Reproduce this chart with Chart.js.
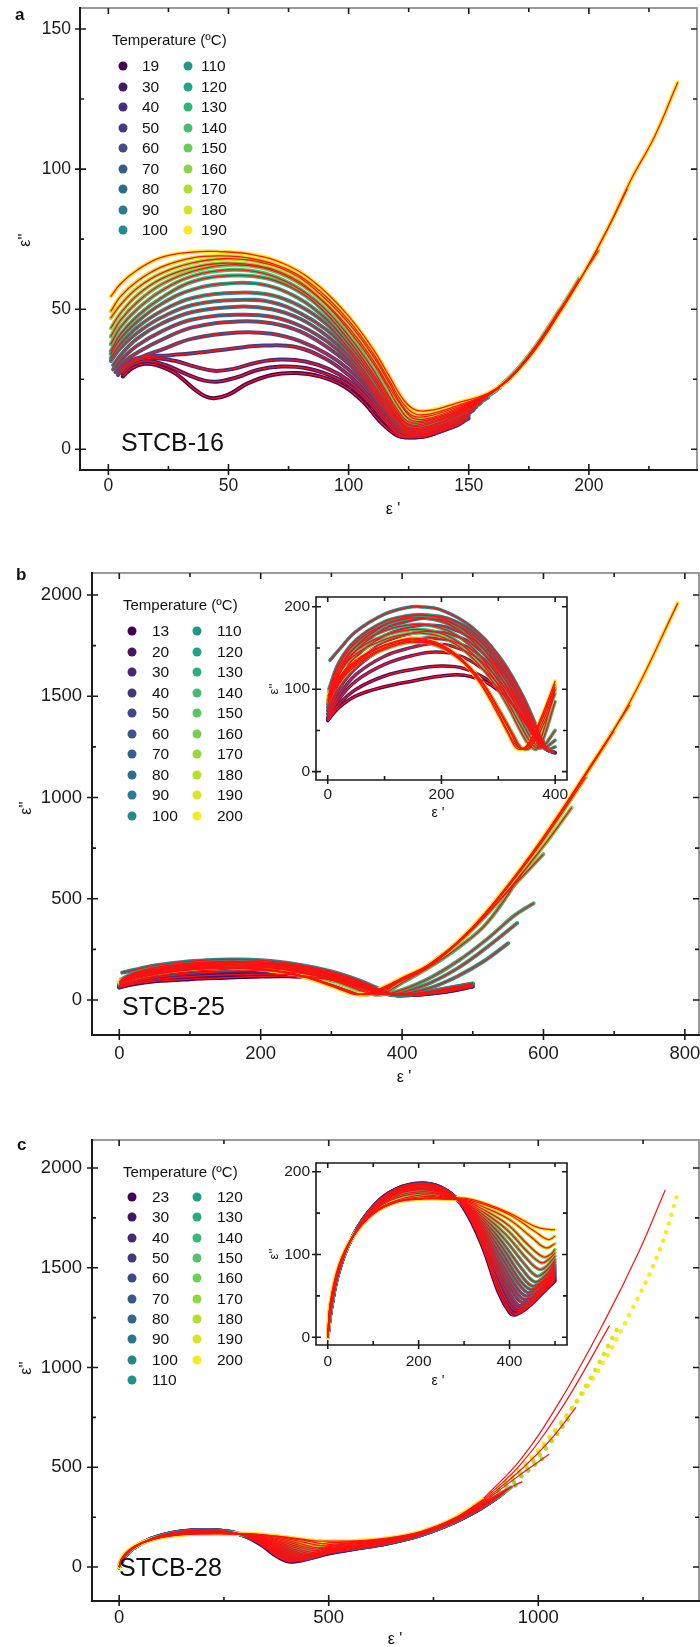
<!DOCTYPE html>
<html>
<head>
<meta charset="utf-8">
<script src="https://cdn.jsdelivr.net/npm/chart.js@4.4.1/dist/chart.umd.min.js"></script>
<style>
  body { margin: 0; background: #fff; width: 700px; height: 1647px; position: relative; overflow: hidden;
         font-family: "Liberation Sans", Arial, sans-serif; color: #111; }
  canvas { position: absolute; }
  .t { position: absolute; white-space: nowrap; line-height: 1; transform: translateY(-50%); }
  .c { transform: translate(-50%, -50%); }
  .r { transform: translate(-50%, -50%) rotate(-90deg); }
  .dot { position: absolute; width: 9px; height: 9px; border-radius: 50%; transform: translate(-50%, -50%); }
</style>
</head>
<body>
<canvas id="ca" width="700" height="520" style="left:0;top:0"></canvas>
<canvas id="cb" width="700" height="560" style="left:0;top:540px"></canvas>
<canvas id="cbi" width="320" height="240" style="left:260px;top:585px"></canvas>
<canvas id="cc" width="700" height="537" style="left:0;top:1110px"></canvas>
<canvas id="cci" width="320" height="240" style="left:260px;top:1150px"></canvas>
<div id="txt"></div>
<script>
// ---------- tick labels ----------
const ticksAx = [0, 50, 100, 150, 200], ticksAy = [0, 50, 100, 150];
const ticksBx = [0, 200, 400, 600, 800], ticksBy = [0, 500, 1000, 1500, 2000];
const ticksCx = [0, 500, 1000], ticksCy = [0, 500, 1000, 1500, 2000];
const ticksInsX = [0, 200, 400], ticksInsY = [0, 100, 200];

// ---------- panel a : STCB-16 ----------
const tempsA = [19, 30, 40, 50, 60, 70, 80, 90, 100, 110, 120, 130, 140, 150, 160, 170, 180, 190];
const curvesA = [
  [[6,26],[10,29],[15,30.5],[20,30],[28,27],[35,22],[40,19],[44,18.2],[50,19.5],[58,23.5],[68,26.5],[78,27.2],[88,26],[98,22.5],[106,17],[113,10],[120,5],[125,4.2],[133,4.8],[142,8]],
  [[6,27],[10,30],[16,31.5],[24,30],[32,27],[40,24.5],[46,24.2],[54,25.8],[62,28.3],[72,29.5],[82,29],[92,26.5],[100,23],[108,17],[115,10],[121,5],[125,4.3],[133,5],[145,8.5]],
  [[5,27.5],[10,31],[18,32.5],[28,31.5],[36,29.5],[44,28],[52,28.7],[62,31],[72,32],[82,31.3],[92,28.5],[100,24.5],[108,18],[115,11],[121,5.5],[125,4.5],[133,5.2],[145,8.5],[148,10]],
  [[5,28],[9,31.5],[15,33],[25,33.5],[38,34.5],[52,36],[65,37],[78,36.5],[90,32.5],[100,26.5],[108,19.5],[115,12],[121,6.5],[125,5],[133,5.5],[145,9],[150,11]],
  [[4,26.5],[8,30],[14,33],[22,35.5],[35,39.5],[54,41.7],[68,41.2],[80,38.5],[91,34],[100,28.5],[108,21.5],[115,13.5],[121,7.5],[125,5.5],[133,6],[145,9.5],[150,12]],
  [[3,27.5],[7,31.5],[13,35],[22,39],[35,43.5],[54,45.6],[68,45],[80,42],[91,36.5],[100,30.5],[108,23],[115,14.5],[121,8.5],[125,6],[133,6.5],[145,10],[152,14]],
  [[2,28.5],[6,32.5],[12,37],[22,42],[35,46.3],[54,48],[68,47.3],[80,44],[91,38.5],[100,32],[108,24],[115,15.5],[121,9.5],[125,6.5],[133,7],[145,10.5],[153,15]],
  [[2,30],[6,34.5],[12,39.5],[22,44.8],[35,49],[54,50.9],[68,50],[80,46.5],[91,40.5],[100,33.5],[108,25],[115,16.5],[121,10],[125,7],[133,7.3],[145,11],[155,16.5]],
  [[1,31.5],[5,36],[12,41.5],[22,47],[35,51.5],[54,53.3],[68,52.5],[80,48.5],[91,42.5],[100,35],[108,26],[115,17.5],[120,11.5],[125,7.3],[133,7.8],[145,11.8],[158,18.5]],
  [[1,32.5],[5,37.5],[12,43.5],[22,49.3],[35,54],[54,55.9],[68,55],[80,51],[91,44.5],[100,36],[109,26.5],[115,18.5],[120,12],[125,7.8],[133,8.2],[145,12.3],[158,19],[163,22]],
  [[1,34],[5,39.5],[12,45.5],[22,51.8],[35,57],[52,59.3],[66,58.5],[79,54],[90,47],[100,37.5],[109,27.5],[115,19.5],[120,12.8],[125,8.5],[132,8.7],[145,12.8],[158,19.2],[166,24.5]],
  [[1,35],[5,41],[12,47.5],[22,54],[35,59.8],[52,62],[66,61],[79,56.5],[90,49],[100,39],[109,28.5],[115,20.5],[120,13.5],[125,9],[132,9.2],[145,13.2],[158,19.3],[168,26.5],[176,34]],
  [[1,37.5],[5,43.5],[12,50],[22,56.5],[35,61.8],[50,64],[64,63],[77,58.5],[89,51],[100,40.5],[109,30],[115,21.5],[120,14.5],[125,9.8],[132,9.8],[145,13.5],[158,19.5],[168,26.5],[180,39]],
  [[1,40.2],[5,46],[12,52.5],[22,58.8],[35,63.5],[50,65.8],[64,64.8],[77,60.5],[89,53],[100,42.5],[110,31],[116,22.5],[121,15],[126,10.3],[133,10.5],[145,14],[158,19.5],[168,26.3],[178,37],[188,50]],
  [[1,43.2],[5,48.5],[12,55],[22,60.8],[35,64.8],[48,66.4],[62,65.5],[76,61.5],[88,54],[100,43.5],[110,32],[116,23.5],[122,15.5],[127,11],[134,11.2],[145,14.5],[158,19.5],[168,26],[178,37],[188,50],[196,61]],
  [[1,46.8],[5,51.5],[12,57.5],[22,62.8],[35,66.5],[48,68],[62,67],[76,63],[88,55.5],[100,45],[110,33.5],[117,23.5],[122,16],[127,11.8],[134,12],[145,15],[158,19.7],[168,26],[178,36.5],[188,49.5],[198,63],[204,71]],
  [[1,49.2],[5,54.5],[12,60],[22,65],[35,68.3],[47,69],[60,68],[75,64],[88,56.5],[100,46],[110,34.5],[117,24.5],[123,16],[128,12.5],[135,12.8],[145,15.5],[158,19.8],[168,26],[178,36],[188,49],[198,63],[208,79],[216,93]],
  [[1,54.5],[5,59],[12,64],[22,68.5],[35,70.4],[45,70.6],[60,69.5],[75,65.5],[88,58],[100,47.5],[110,36],[117,26],[123,17.5],[128,14],[135,14],[145,16.5],[158,20],[168,26],[178,36],[188,49],[198,63],[208,79],[218,97],[227,111],[237,131]]
];

// ---------- panel b : STCB-25 ----------
const tempsB = [13, 20, 30, 40, 50, 60, 70, 80, 90, 100, 110, 120, 130, 140, 150, 160, 170, 180, 190, 200];
const curvesB = [
  [[0,62],[20,78],[50,92],[100,103],[150,110],[200,116],[240,117],[280,108],[310,92],[340,66],[365,42],[385,27],[400,23],[430,28],[465,42],[500,66]],
  [[0,63],[20,82],[50,100],[100,116],[150,124],[200,128],[240,125],[280,112],[310,95],[340,68],[365,44],[385,27],[400,23],[430,29],[465,44],[500,68]],
  [[0,64],[20,88],[50,110],[100,130],[150,141],[190,145],[230,141],[270,126],[305,102],[335,72],[360,46],[382,28],[398,23],[430,30],[465,46],[500,70]],
  [[0,66],[20,93],[50,118],[100,140],[150,151],[180,155],[220,152],[260,139],[300,112],[330,82],[358,50],[380,30],[396,24],[430,31],[465,48],[500,71]],
  [[0,70],[20,100],[50,126],[100,150],[150,160],[180,162],[220,158],[260,145],[300,117],[332,85],[358,52],[380,31],[395,24],[430,32],[465,50],[500,72]],
  [[0,74],[20,106],[50,133],[100,157],[150,168],[180,170],[220,166],[260,152],[300,123],[334,88],[360,52],[381,31],[394,25],[430,33],[465,52],[500,74]],
  [[0,78],[20,112],[50,140],[100,165],[150,176],[175,178],[215,174],[260,158],[300,128],[336,90],[362,52],[382,30],[393,25],[430,34],[465,54],[500,76]],
  [[0,82],[20,118],[50,147],[100,173],[150,184],[170,186],[210,182],[255,166],[300,133],[338,92],[364,53],[383,30],[392,25],[430,35],[465,56],[500,78]],
  [[0,86],[20,122],[50,152],[100,178],[150,189],[170,190],[210,186],[255,170],[300,137],[340,94],[366,53],[384,30],[392,25],[430,36],[465,58],[500,80]],
  [[4,135],[20,148],[50,170],[100,191],[140,199],[162,200],[200,196],[250,177],[300,141],[340,96],[368,54],[385,29],[394,24],[430,37],[465,60],[500,82]],
  [[2,100],[20,133],[50,160],[100,182],[140,189],[165,190],[205,185],[250,166],[295,130],[330,90],[355,56],[372,34],[386,27],[400,30],[440,60],[480,120],[515,190],[550,280]],
  [[2,96],[20,130],[50,157],[100,178],[145,186],[175,186],[215,178],[255,158],[295,124],[328,86],[352,54],[368,35],[380,29],[400,38],[440,85],[480,160],[520,260],[563,380]],
  [[2,92],[20,126],[50,152],[100,171],[145,178],[175,178],[215,170],[255,150],[292,118],[325,82],[348,52],[364,34],[376,29],[400,50],[440,110],[480,195],[520,300],[560,420],[586,477]],
  [[2,88],[20,122],[50,147],[100,165],[145,172],[170,172],[210,165],[250,146],[290,115],[320,80],[344,50],[360,33],[372,29],[400,85],[440,165],[480,260],[520,380],[570,627]],
  [[2,86],[20,118],[50,143],[100,160],[140,167],[165,168],[205,162],[245,144],[285,114],[316,80],[340,48],[356,31],[368,28],[400,100],[440,180],[490,320],[540,500],[600,720]],
  [[0,84],[15,102],[40,123],[80,142],[120,153],[150,157],[190,153],[230,137],[272,108],[302,75],[327,44],[342,28],[356,29],[380,58],[400,95],[440,170],[490,315],[540,500],[600,760],[640,950]],
  [[0,86],[15,104],[40,125],[80,144],[120,155],[150,158],[190,154],[230,138],[270,110],[300,76],[325,45],[340,28],[354,30],[378,60],[400,100],[440,173],[490,320],[540,515],[600,790],[660,1100]],
  [[0,88],[15,106],[40,127],[80,146],[120,157],[150,160],[190,156],[230,140],[268,112],[298,78],[322,47],[337,29],[352,31],[376,62],[400,103],[440,175],[490,322],[540,520],[600,798],[660,1112],[700,1330]],
  [[0,90],[15,108],[40,128],[80,147],[120,158],[150,162],[190,157],[230,140],[265,112],[295,78],[318,47],[334,30],[350,31],[375,62],[400,106],[440,177],[490,324],[540,522],[600,802],[660,1118],[722,1457]],
  [[0,92],[15,110],[40,130],[80,148],[120,158],[150,160],[190,155],[230,138],[265,110],[295,75],[318,45],[333,28],[348,30],[373,62],[400,110],[440,180],[490,326],[540,525],[600,806],[660,1122],[722,1470],[790,1960]]
];

// ---------- panel c : STCB-28 ----------
const tempsC = [23, 30, 40, 50, 60, 70, 80, 90, 100, 110, 120, 130, 140, 150, 160, 170, 180, 190, 200];
const curvesC = [
  [[0,0],[8,35],[25,80],[55,122],[100,158],[150,179],[210,186],[260,178],[300,155],[340,110],[375,55],[400,30],[412,27],[440,36],[470,52],[500,68],[560,90],[640,118],[720,160],[800,225],[860,290],[900,345]],
  [[0,0],[8,35],[25,80],[55,122],[100,158],[150,179],[210,186],[260,178],[300,156],[340,113],[375,60],[400,34],[414,29],[440,37],[470,53],[500,70],[560,91],[640,119],[720,160],[800,225],[860,292],[900,348]],
  [[0,0],[8,35],[25,80],[55,122],[100,158],[150,178],[210,186],[260,178],[300,157],[340,116],[375,66],[400,39],[416,32],[440,39],[470,55],[500,72],[560,92],[640,120],[720,161],[800,226],[865,298],[905,352]],
  [[0,0],[8,35],[25,80],[55,122],[100,157],[150,178],[210,185],[260,178],[300,157],[340,119],[378,70],[405,42],[420,35],[445,41],[470,56],[500,74],[560,93],[640,120],[720,161],[800,226],[865,300],[905,355]],
  [[0,0],[8,35],[25,80],[55,122],[100,157],[150,177],[210,185],[260,177],[300,158],[340,122],[378,76],[408,46],[424,38],[450,44],[475,59],[500,76],[560,94],[640,121],[720,162],[800,227],[870,305],[910,360]],
  [[0,0],[8,35],[25,80],[55,122],[100,157],[150,177],[210,184],[260,177],[300,158],[340,125],[380,80],[410,52],[428,42],[452,48],[478,62],[500,78],[560,95],[640,122],[720,163],[800,228],[870,306],[910,362]],
  [[0,0],[8,35],[25,80],[55,122],[100,156],[150,176],[210,183],[260,176],[300,159],[340,128],[380,86],[412,57],[432,46],[455,51],[480,65],[500,80],[560,96],[640,123],[720,163],[800,228],[870,307],[912,365]],
  [[0,0],[8,36],[25,81],[55,122],[100,156],[150,176],[210,182],[260,176],[300,159],[340,131],[380,92],[415,61],[436,50],[458,55],[482,68],[500,82],[560,98],[640,124],[720,164],[800,229],[870,308],[915,368]],
  [[0,0],[8,36],[25,81],[55,121],[100,155],[150,175],[210,181],[260,175],[300,160],[340,134],[382,97],[418,66],[440,54],[460,59],[484,71],[500,84],[560,99],[640,125],[720,164],[800,229],[870,309],[918,372]],
  [[0,0],[8,37],[25,82],[55,121],[100,155],[150,174],[210,180],[260,174],[300,160],[340,137],[384,102],[420,71],[445,58],[465,63],[486,74],[500,86],[560,100],[640,126],[720,165],[800,230],[870,310],[920,376]],
  [[0,0],[8,37],[25,82],[55,121],[100,154],[150,173],[210,179],[260,173],[300,161],[340,140],[386,107],[424,76],[450,62],[470,67],[488,78],[500,88],[560,102],[640,127],[720,165],[800,230],[870,311],[922,380]],
  [[0,0],[8,37],[25,82],[55,121],[100,154],[150,172],[210,178],[260,172],[300,161],[340,143],[388,112],[428,82],[455,67],[474,72],[490,82],[500,91],[560,104],[640,128],[720,166],[800,231],[870,312],[925,385]],
  [[0,0],[8,38],[25,83],[55,121],[100,153],[150,170],[210,176],[260,171],[300,162],[340,146],[390,118],[432,89],[460,74],[478,79],[492,87],[500,94],[560,106],[640,130],[720,167],[800,232],[870,314],[930,392]],
  [[0,0],[8,38],[25,83],[55,121],[100,152],[150,168],[210,174],[260,170],[300,163],[340,149],[392,124],[436,96],[465,82],[482,86],[500,98],[560,110],[640,132],[720,168],[800,233],[870,316],[935,400]],
  [[0,0],[6,40],[25,85],[55,121],[100,150],[150,165],[210,172],[260,169],[300,164],[340,152],[394,130],[440,103],[470,90],[486,94],[500,102],[560,115],[640,135],[720,170],[800,235],[870,320]],
  [[0,0],[6,40],[25,85],[55,121],[100,150],[150,164],[210,170],[260,168],[300,165],[340,155],[396,136],[444,110],[475,97],[490,100],[500,106],[560,120],[640,138],[720,172],[800,238],[870,325]],
  [[0,0],[6,41],[25,86],[55,121],[100,149],[150,163],[210,168],[260,167],[300,166],[340,158],[400,142],[450,120],[480,108],[500,113],[560,123],[640,140],[720,174],[800,240],[870,330]],
  [[0,0],[6,42],[25,87],[55,121],[100,149],[150,163],[210,167],[260,167],[300,167],[340,161],[400,148],[455,128],[485,118],[500,122],[560,127],[640,142],[720,176],[800,242],[870,335]],
  [[0,0],[6,43],[25,88],[55,122],[100,150],[150,164],[210,168],[260,168],[300,168],[340,163],[400,150],[460,133],[490,130],[500,130],[560,131],[640,145],[720,178],[800,245],[870,340]]
];
// sparse high-frequency dots (160..200 °C) and their fit lines
const tailTempsC = [160, 170, 180, 190, 200];
const tailDotsC = [
  [[870,320],[915,378],[956,420]],
  [[870,325],[945,432],[1012,548]],
  [[870,330],[955,462],[1020,600],[1072,745]],
  [[870,335],[960,488],[1045,690],[1120,930],[1190,1200]],
  [[870,340],[960,498],[1050,715],[1140,975],[1220,1275],[1290,1590],[1335,1887]]
];
const tailFitsC = [
  [[870,320],[920,385],[962,428]],
  [[870,326],[950,452],[1026,565]],
  [[870,332],[960,490],[1030,640],[1090,800]],
  [[870,338],[960,520],[1060,810],[1170,1210]],
  [[870,345],[960,545],[1060,860],[1160,1240],[1240,1580],[1303,1890]]
];

// ---------- styling helpers ----------
const viridis = ['#440154','#482475','#414487','#355f8d','#2a788e','#21918c','#22a884','#44bf70','#7ad151','#bddf26','#fde725'];
function hex(c) { return [1,3,5].map(i => parseInt(c.substr(i,2),16)); }
function colorAt(f) {
  const p = f * (viridis.length - 1), i = Math.min(Math.floor(p), viridis.length - 2), t = p - i;
  const a = hex(viridis[i]), b = hex(viridis[i+1]);
  return 'rgb(' + a.map((v,k) => Math.round(v + (b[k]-v)*t)).join(',') + ')';
}
function palette(n) { return Array.from({length: n}, (_, i) => colorAt(i / (n - 1))); }
const colA = palette(tempsA.length), colB = palette(tempsB.length), colC = palette(tempsC.length);
const RED = '#ff1010';
const pts = c => c.map(p => ({x: p[0], y: p[1]}));
// the insets only show the measured range up to their last x tick
const upTo = (curves, xmax) => curves.map(c => c.filter(p => p[0] <= xmax));

function seriesSets(curves, cols, w, rw) {
  const ds = [];
  curves.forEach((c, i) => ds.push({ data: pts(c), showLine: true, pointRadius: 0, tension: 0.4,
    borderColor: cols[i], borderWidth: w, borderCapStyle: 'round', borderJoinStyle: 'round', order: 200 - i }));
  curves.forEach(c => ds.push({ data: pts(c), showLine: true, pointRadius: 0, tension: 0.4,
    borderColor: RED, borderWidth: rw, order: 0 }));
  return ds;
}

// frame with in/out ticks on four sides, drawn from the chart's own scales
const frame = {
  id: 'frame',
  afterDraw(chart, args, o) {
    const {ctx, chartArea: a, scales: {x, y}} = chart;
    ctx.save();
    ctx.lineCap = 'butt';
    const minors = (s, step) => {
      const out = [];
      for (let v = Math.ceil(s.min / step) * step; v <= s.max; v += step) out.push(v);
      return out;
    };
    const majX = x.ticks.map(t => t.value), majY = y.ticks.map(t => t.value);
    const minX = minors(x, o.mx).filter(v => !majX.includes(v));
    const minY = minors(y, o.my).filter(v => !majY.includes(v));
    ctx.lineWidth = o.lw;
    ctx.strokeStyle = o.side;
    ctx.beginPath();
    ctx.moveTo(a.left, a.top); ctx.lineTo(a.right, a.top); ctx.lineTo(a.right, a.bottom);
    ctx.stroke();
    ctx.strokeStyle = '#1a1a1a';
    ctx.beginPath();
    ctx.moveTo(a.left, a.top - o.lw / 2); ctx.lineTo(a.left, a.bottom); ctx.lineTo(a.right + o.lw / 2, a.bottom);
    ctx.stroke();
    ctx.lineWidth = o.tw;
    ctx.beginPath();
    majX.forEach(v => { const p = x.getPixelForValue(v);
      ctx.moveTo(p, a.bottom - o.tin); ctx.lineTo(p, a.bottom + o.tout);
      ctx.moveTo(p, a.top); ctx.lineTo(p, a.top + o.tin); });
    minX.forEach(v => { const p = x.getPixelForValue(v);
      ctx.moveTo(p, a.bottom - o.tmin); ctx.lineTo(p, a.bottom);
      ctx.moveTo(p, a.top); ctx.lineTo(p, a.top + o.tmin); });
    majY.forEach(v => { const p = y.getPixelForValue(v);
      ctx.moveTo(a.left - o.tout, p); ctx.lineTo(a.left + o.tin, p);
      ctx.moveTo(a.right - o.tin, p); ctx.lineTo(a.right, p); });
    minY.forEach(v => { const p = y.getPixelForValue(v);
      ctx.moveTo(a.left, p); ctx.lineTo(a.left + o.tmin, p);
      ctx.moveTo(a.right - o.tmin, p); ctx.lineTo(a.right, p); });
    ctx.stroke();
    ctx.restore();
  }
};

function makeChart(id, c) {
  const axis = (min, max, ticks, pad, size, fit) => ({
    type: 'linear', min, max,
    grid: { display: false, drawTicks: false }, border: { display: false },
    afterBuildTicks: s => { s.ticks = ticks.map(v => ({ value: v })); },
    ticks: { padding: pad, color: '#1a1a1a', callback: v => String(v),
             font: { size, family: "'Liberation Sans', Arial, sans-serif" } },
    afterFit: fit
  });
  return new Chart(document.getElementById(id), {
    type: 'scatter',
    data: { datasets: c.datasets },
    options: {
      responsive: false, animation: false, events: [],
      layout: { padding: { left: 0, top: c.pt, right: c.pr, bottom: 0 } },
      scales: {
        x: axis(c.x[0], c.x[1], c.xt, c.xpad, c.fs, s => { s.height = c.xh; s.paddingLeft = 0; s.paddingRight = 0; }),
        y: axis(c.y[0], c.y[1], c.yt, c.ypad, c.fs, s => { s.width = c.yw; s.paddingTop = 0; s.paddingBottom = 0; })
      },
      plugins: {
        legend: { display: false }, tooltip: { enabled: false },
        frame: { mx: c.x[2], my: c.y[2], lw: c.lw, side: c.side, tw: 1.6, tin: c.tin, tout: c.tout, tmin: c.tmin }
      }
    },
    plugins: [frame]
  });
}

// panel a
makeChart('ca', { datasets: seriesSets(curvesA, colA, 4, 1.3),
  x: [-11.8, 245, 25], y: [-7.4, 157.5, 25], xt: ticksAx, yt: ticksAy, pt: 8, pr: 3, xh: 50, yw: 80,
  xpad: 6, ypad: 9, fs: 17.5, lw: 2, side: '#9a9a9a', tin: 6, tout: 5, tmin: 4 });

// panel b
makeChart('cb', { datasets: seriesSets(curvesB, colB, 4, 1.3),
  x: [-38.6, 820, 100], y: [-172.8, 2108.6, 250], xt: ticksBx, yt: ticksBy, pt: 33, pr: 1, xh: 65, yw: 92,
  xpad: 8, ypad: 10, fs: 18.5, lw: 2, side: '#9a9a9a', tin: 6, tout: 5, tmin: 4 });
makeChart('cbi', { datasets: seriesSets(upTo(curvesB, 400), colB, 3.5, 1.3),
  x: [-20.6, 420.8, 100], y: [-10.1, 211.8, 50], xt: ticksInsX, yt: ticksInsY, pt: 12, pr: 13, xh: 45, yw: 56,
  xpad: 5, ypad: 6, fs: 15.5, lw: 1.6, side: '#1a1a1a', tin: 5, tout: 4, tmin: 4 });

// panel c
const setsC = seriesSets(curvesC, colC, 4, 1.3);
tailDotsC.forEach((c, i) => setsC.push({ data: pts(c), showLine: true, pointRadius: 0, tension: 0.4,
  borderColor: colC[tempsC.indexOf(tailTempsC[i])], borderWidth: 4.5, borderDash: [0.1, 9],
  borderCapStyle: 'round', order: 50 }));
tailFitsC.forEach(c => setsC.push({ data: pts(c), showLine: true, pointRadius: 0, tension: 0.4,
  borderColor: RED, borderWidth: 1.2, order: 0 }));
makeChart('cc', { datasets: setsC,
  x: [-64.8, 1383.5, 250], y: [-170, 2140, 250], xt: ticksCx, yt: ticksCy, pt: 30, pr: 1, xh: 46, yw: 92,
  xpad: 6, ypad: 10, fs: 18.5, lw: 2, side: '#9a9a9a', tin: 6, tout: 5, tmin: 4 });
makeChart('cci', { datasets: seriesSets(upTo(curvesC, 500), colC, 3.5, 1.3),
  x: [-25.8, 526.4, 100], y: [-9.3, 210.5, 50], xt: ticksInsX, yt: ticksInsY, pt: 13, pr: 13, xh: 45, yw: 56,
  xpad: 7, ypad: 6, fs: 15.5, lw: 1.6, side: '#1a1a1a', tin: 5, tout: 4, tmin: 4 });

// ---------- texts and legends ----------
const txt = document.getElementById('txt');
function label(s, x, y, css, cls) {
  const d = document.createElement('div');
  d.className = 't' + (cls ? ' ' + cls : '');
  d.textContent = s;
  d.style.left = x + 'px'; d.style.top = y + 'px';
  d.style.cssText += css;
  txt.appendChild(d);
}
function legend(temps, cols, n1, tx, ty, d1, t1, d2, t2, y0, step) {
  label('Temperature (ºC)', tx, ty, 'font-size:15px;');
  temps.forEach((t, i) => {
    const col = i < n1 ? 0 : 1, row = i < n1 ? i : i - n1, y = y0 + row * step;
    const d = document.createElement('div');
    d.className = 'dot';
    d.style.left = (col ? d2 : d1) + 'px'; d.style.top = y + 'px'; d.style.background = cols[i];
    txt.appendChild(d);
    label(String(t), col ? t2 : t1, y, 'font-size:15.5px;');
  });
}
legend(tempsA, colA, 9, 112, 39, 123, 142, 188, 201, 66, 20.5);
legend(tempsB, colB, 10, 123, 604, 132, 152, 197, 217, 631, 20.5);
legend(tempsC, colC, 10, 123, 1171, 132, 152, 197, 217, 1197, 20.35);

label('a', 15, 14, 'font-size:17px;font-weight:bold;');
label('b', 16, 574, 'font-size:17px;font-weight:bold;');
label('c', 17, 1144, 'font-size:17px;font-weight:bold;');
label('STCB-16', 121, 442, 'font-size:25px;');
label('STCB-25', 122, 1006, 'font-size:25px;');
label('STCB-28', 119, 1567, 'font-size:25px;');
label("ε''", 25, 240, 'font-size:16px;', 'r');
label("ε''", 26, 808, 'font-size:16px;', 'r');
label("ε''", 26, 1368, 'font-size:16px;', 'r');
label("ε''", 273, 689, 'font-size:13px;', 'r');
label("ε''", 273, 1254, 'font-size:13px;', 'r');
label("ε '", 393, 509, 'font-size:16px;', 'c');
label("ε '", 404, 1077, 'font-size:16px;', 'c');
label("ε '", 395, 1639, 'font-size:16px;', 'c');
label("ε '", 438, 812, 'font-size:14px;', 'c');
label("ε '", 438, 1380, 'font-size:14px;', 'c');
</script>
</body>
</html>
